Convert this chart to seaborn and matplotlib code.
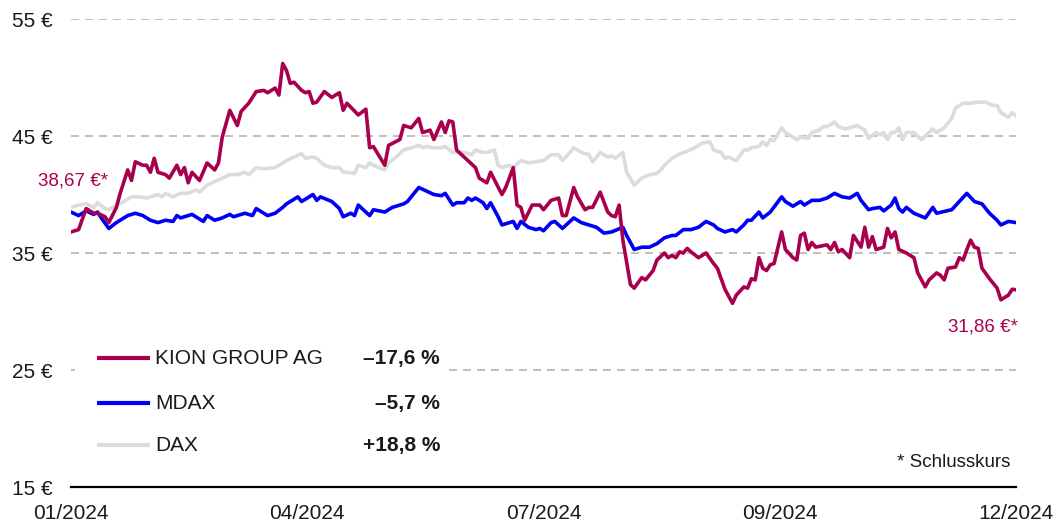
import numpy as np
import pandas as pd
import matplotlib
matplotlib.use("Agg")
import matplotlib.pyplot as plt
from matplotlib.patches import Rectangle
import seaborn as sns

# KION GROUP AG share price (trading day index, EUR)
kion_day = [0, 2, 4, 6, 7, 9, 10, 12, 13, 15, 16, 17, 19, 20, 21, 22, 23, 25, 26, 28,
            29, 30, 31, 32, 34, 36, 38, 39, 40, 42, 44, 45, 47, 49, 51, 52, 54, 55, 56, 57,
            58, 59, 61, 62, 63, 64, 65, 67, 69, 71, 72, 73, 76, 78, 79, 80, 83, 84, 87, 88,
            90, 92, 93, 95, 96, 98, 99, 100, 101, 102, 104, 105, 107, 108, 110, 111, 114, 115, 117, 118,
            119, 120, 122, 124, 125, 127, 129, 130, 131, 133, 134, 136, 137, 138, 140, 142, 143, 144, 145, 146,
            148, 149, 151, 152, 154, 155, 157, 158, 159, 160, 161, 162, 163, 164, 166, 168, 170, 171, 173, 175,
            176, 178, 179, 180, 181, 182, 183, 184, 185, 186, 188, 189, 191, 192, 193, 194, 195, 196, 197, 200,
            201, 202, 203, 204, 206, 207, 209, 210, 211, 212, 213, 215, 216, 217, 218, 219, 221, 223, 224, 226,
            227, 229, 230, 231, 232, 234, 235, 236, 237, 238, 239, 240, 241, 243, 245, 246, 248, 249, 250]
kion_eur = [36.8, 37.0, 38.8, 38.4, 38.4, 38.1, 37.6, 38.9, 40.1, 42.1, 41.2, 42.8, 42.5, 42.5, 41.9, 43.1, 41.9, 41.7, 41.4, 42.5,
            41.7, 42.3, 41.0, 41.9, 41.2, 42.7, 42.1, 42.7, 44.9, 47.2, 45.9, 47.1, 47.8, 48.8, 48.9, 48.7, 49.1, 48.5, 51.2, 50.6,
            49.5, 49.6, 48.9, 48.7, 48.8, 47.8, 47.9, 48.8, 48.3, 48.7, 47.2, 47.8, 46.8, 47.3, 44.0, 44.1, 42.5, 44.2, 44.7, 45.9,
            45.7, 46.5, 45.3, 45.5, 44.7, 46.2, 45.3, 46.3, 46.2, 43.8, 43.2, 42.9, 42.3, 41.4, 41.0, 41.9, 40.0, 40.6, 42.3, 39.1,
            38.9, 37.8, 39.1, 39.1, 38.7, 39.5, 39.7, 38.2, 38.2, 40.6, 39.8, 38.7, 38.9, 38.9, 40.2, 38.5, 38.2, 38.1, 39.1, 36.1,
            32.3, 32.0, 32.9, 32.7, 33.5, 34.4, 35.0, 34.6, 34.8, 34.6, 35.1, 35.0, 35.4, 35.1, 34.6, 35.0, 34.1, 33.7, 31.9, 30.7,
            31.4, 32.1, 32.0, 32.8, 32.7, 34.6, 33.7, 33.5, 34.0, 34.1, 36.8, 35.3, 34.6, 34.4, 36.5, 36.7, 35.3, 35.9, 35.5, 35.7,
            35.3, 35.9, 35.1, 35.3, 34.6, 36.5, 35.5, 37.2, 35.5, 36.4, 35.3, 35.5, 37.1, 36.3, 36.8, 35.3, 35.0, 34.6, 33.3, 32.1,
            32.7, 33.3, 33.1, 32.7, 33.7, 33.8, 34.6, 34.4, 35.3, 36.1, 35.5, 35.4, 33.7, 32.8, 32.0, 31.0, 31.4, 31.9, 31.86]

# MDAX, rebased to the share price
mdax_day = [0, 2, 4, 6, 7, 8, 10, 12, 13, 15, 17, 19, 21, 23, 25, 27, 28, 29, 32, 35,
            36, 38, 40, 42, 43, 46, 48, 49, 52, 54, 56, 57, 60, 61, 64, 65, 66, 69, 71, 72,
            74, 75, 76, 79, 80, 83, 85, 88, 89, 91, 92, 94, 96, 98, 99, 101, 102, 104, 105, 106,
            107, 109, 110, 111, 113, 114, 116, 117, 118, 119, 121, 123, 124, 125, 127, 128, 130, 133, 135, 137,
            139, 141, 143, 146, 147, 149, 151, 153, 155, 157, 159, 160, 162, 164, 166, 168, 170, 171, 173, 175,
            176, 178, 179, 180, 182, 183, 185, 188, 189, 191, 193, 194, 196, 198, 200, 202, 204, 206, 208, 209,
            211, 212, 214, 215, 217, 218, 219, 220, 221, 223, 226, 228, 229, 233, 235, 237, 239, 241, 243, 245,
            246, 248, 250]
mdax_eur = [38.5, 38.2, 38.6, 38.3, 38.5, 38.0, 37.1, 37.6, 37.8, 38.2, 38.4, 38.2, 37.8, 37.6, 37.8, 37.7, 38.2, 38.0, 38.3, 37.7,
            38.2, 37.8, 38.0, 38.3, 38.1, 38.4, 38.2, 38.8, 38.2, 38.4, 38.9, 39.2, 39.8, 39.4, 40.0, 39.5, 39.8, 39.4, 38.8, 38.1,
            38.4, 38.2, 39.1, 38.2, 38.7, 38.5, 38.9, 39.2, 39.4, 40.2, 40.6, 40.3, 40.0, 39.9, 40.1, 39.1, 39.3, 39.3, 39.7, 39.5,
            39.7, 39.3, 38.8, 39.3, 38.1, 37.4, 37.6, 37.7, 37.1, 37.7, 37.2, 37.0, 37.1, 36.9, 37.6, 37.7, 37.1, 38.0, 37.6, 37.4,
            37.2, 36.7, 36.8, 37.2, 36.5, 35.3, 35.5, 35.5, 35.8, 36.3, 36.5, 36.5, 37.0, 37.0, 37.2, 37.7, 37.4, 37.1, 36.8, 37.0,
            36.8, 37.4, 37.8, 37.8, 38.5, 38.0, 38.5, 39.8, 39.4, 39.0, 39.4, 39.1, 39.5, 39.5, 39.7, 40.1, 39.8, 39.7, 40.1, 39.5,
            38.7, 38.8, 38.9, 38.6, 39.1, 39.7, 38.8, 38.5, 38.9, 38.4, 38.0, 38.9, 38.4, 38.7, 39.4, 40.1, 39.4, 39.2, 38.4, 37.8,
            37.4, 37.7, 37.6]

# DAX, rebased to the share price
dax_day = [0, 2, 4, 6, 7, 9, 10, 12, 14, 16, 18, 20, 23, 24, 25, 27, 29, 31, 33, 34,
           36, 38, 40, 42, 44, 46, 47, 49, 51, 54, 56, 57, 59, 61, 62, 64, 65, 67, 69, 71,
           72, 73, 75, 76, 78, 79, 80, 83, 84, 86, 88, 90, 92, 93, 94, 96, 98, 99, 101, 103,
           104, 106, 107, 109, 110, 112, 113, 114, 116, 117, 119, 121, 123, 125, 127, 129, 130, 132, 133, 135,
           137, 138, 140, 142, 143, 144, 146, 147, 149, 151, 153, 155, 156, 157, 159, 160, 162, 163, 165, 167,
           169, 170, 172, 173, 174, 176, 178, 179, 180, 182, 183, 184, 185, 186, 188, 189, 192, 193, 195, 196,
           198, 199, 200, 202, 203, 205, 207, 208, 210, 211, 213, 214, 215, 216, 217, 218, 219, 220, 221, 223,
           225, 227, 228, 229, 231, 233, 234, 236, 238, 240, 242, 244, 245, 246, 248, 249, 250]
dax_eur = [38.9, 39.1, 39.2, 38.9, 39.3, 38.8, 38.7, 39.1, 39.4, 39.8, 39.8, 39.7, 40.0, 39.8, 40.1, 39.8, 40.1, 40.1, 40.4, 40.2,
           40.8, 41.1, 41.4, 41.7, 41.7, 41.9, 41.7, 42.3, 42.2, 42.3, 42.7, 42.9, 43.2, 43.5, 43.1, 43.2, 43.1, 42.5, 42.3, 42.3,
           41.9, 41.9, 41.8, 42.5, 42.3, 42.7, 42.5, 42.1, 42.7, 43.2, 43.8, 44.0, 44.2, 44.0, 44.1, 44.0, 44.0, 44.1, 43.6, 43.6,
           43.6, 43.4, 43.8, 43.6, 43.6, 43.8, 42.5, 42.3, 42.5, 42.3, 42.9, 42.7, 42.8, 42.9, 43.4, 43.4, 42.9, 43.6, 44.0, 43.6,
           43.4, 42.8, 43.6, 43.2, 43.3, 43.1, 43.6, 41.9, 40.8, 41.4, 41.7, 41.8, 42.1, 42.5, 43.1, 43.3, 43.6, 43.7, 44.0, 44.4,
           44.5, 43.8, 43.6, 43.1, 43.2, 42.9, 43.8, 43.8, 44.0, 44.1, 44.5, 44.2, 44.7, 44.6, 45.7, 45.3, 44.7, 44.9, 44.8, 45.3,
           45.5, 45.8, 45.8, 46.2, 45.8, 45.6, 45.8, 45.9, 45.5, 44.8, 45.3, 45.1, 45.3, 44.7, 45.3, 45.3, 45.7, 44.7, 45.3, 45.3,
           44.7, 45.3, 45.6, 45.3, 45.7, 46.5, 47.4, 47.8, 47.8, 47.9, 47.9, 47.6, 47.6, 47.0, 46.6, 47.0, 46.7]

series_names = ["KION GROUP AG", "MDAX", "DAX"]
series_changes = ["–17,6 %", "–5,7 %", "+18,8 %"]
series_colors = ["#A8004F", "#0000F5", "#DCDCDC"]
x_tick_labels = ["01/2024", "04/2024", "07/2024", "09/2024", "12/2024"]
y_ticks = [15, 25, 35, 45, 55]
start_label = "38,67 €*"
end_label = "31,86 €*"
note = "* Schlusskurs"
n_days = 250

df = pd.concat([
    pd.DataFrame({"day": kion_day, "eur": kion_eur, "series": "KION GROUP AG"}),
    pd.DataFrame({"day": mdax_day, "eur": mdax_eur, "series": "MDAX"}),
    pd.DataFrame({"day": dax_day, "eur": dax_eur, "series": "DAX"}),
])
palette = dict(zip(series_names, series_colors))

sns.set_theme(style="white")
plt.rcParams["font.family"] = ["Liberation Sans", "DejaVu Sans"]
text_color = "#1a1a1a"

fig = plt.figure(figsize=(10.57, 5.24), dpi=100)
ax = fig.add_axes([0.0672, 0.0706, 0.8940, 0.8931])

# grey at the back, KION on top
for name in ["DAX", "MDAX", "KION GROUP AG"]:
    sns.lineplot(data=df[df["series"] == name], x="day", y="eur", color=palette[name],
                 linewidth=2.6, estimator=None, sort=True, legend=False, ax=ax, zorder=3)

ax.set_xlim(0, n_days)
ax.set_ylim(15, 55)
ax.set_xticks(np.linspace(0, n_days, len(x_tick_labels)))
ax.set_xticklabels(x_tick_labels)
ax.set_yticks(y_ticks)
ax.set_yticklabels([f"{v} €" for v in y_ticks])
ax.set_xlabel("")
ax.set_ylabel("")
ax.tick_params(axis="both", length=0, labelsize=15, colors=text_color)
ax.tick_params(axis="y", pad=13)
ax.tick_params(axis="x", pad=12)

ax.grid(axis="y", color="#BAB3AC", linewidth=1.2, linestyle=(0, (4.8, 3.6)))
ax.grid(axis="x", visible=False)
ax.set_axisbelow(True)
for side in ["left", "top", "right"]:
    ax.spines[side].set_visible(False)
ax.spines["bottom"].set_color("black")
ax.spines["bottom"].set_linewidth(1.6)
ax.spines["bottom"].set_zorder(4)

# legend block with its own white background over the grid
ax.add_patch(Rectangle((0.004, 0.03), 0.392, 0.31, transform=ax.transAxes,
                       facecolor="white", edgecolor="none", zorder=1.5))
legend_y = [0.2756, 0.1795, 0.0897]
for name, change, color, yf in zip(series_names, series_changes, series_colors, legend_y):
    ax.plot([0.0275, 0.0836], [yf, yf], transform=ax.transAxes, color=color,
            linewidth=3, solid_capstyle="butt", zorder=5)
    ax.text(0.0889, yf, name, transform=ax.transAxes, fontsize=15, color=text_color,
            va="center", ha="left", zorder=5)
    ax.text(0.3905, yf, change, transform=ax.transAxes, fontsize=15, color=text_color,
            fontweight="bold", va="center", ha="right", zorder=5)

ax.text(0.039, 0.654, start_label, transform=ax.transAxes, fontsize=13.5,
        color=series_colors[0], va="center", ha="right", clip_on=False)
ax.text(1.002, 0.342, end_label, transform=ax.transAxes, fontsize=13.5,
        color=series_colors[0], va="center", ha="right", clip_on=False)
ax.text(0.9937, 0.053, note, transform=ax.transAxes, fontsize=13.5,
        color=text_color, va="center", ha="right")

fig.savefig("out.png", dpi=100)
